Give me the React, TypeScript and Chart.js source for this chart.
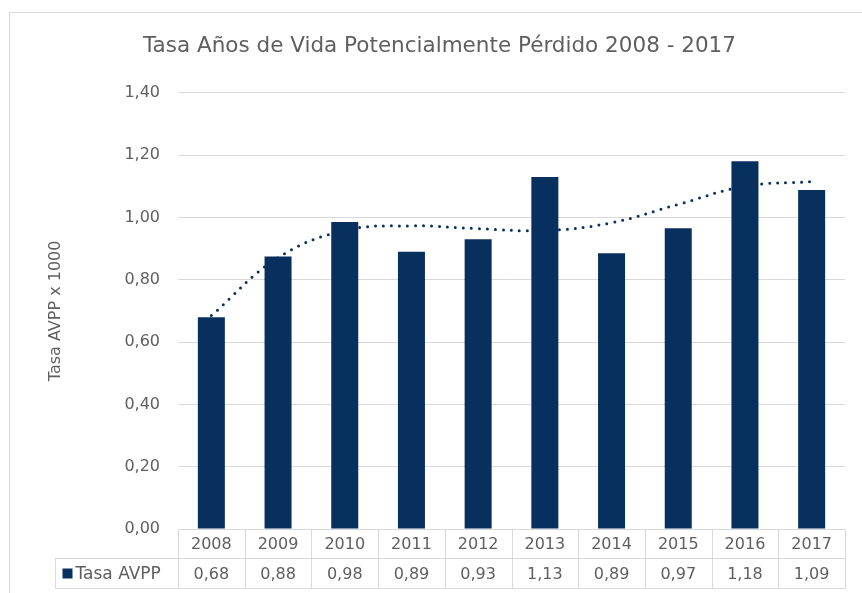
import React, { useEffect, useRef } from "react";
import { Chart, registerables } from "chart.js";

Chart.register(...registerables);

const categories = ["2008", "2009", "2010", "2011", "2012", "2013", "2014", "2015", "2016", "2017"];
const tasaAVPP = [0.68, 0.875, 0.985, 0.89, 0.93, 1.13, 0.885, 0.965, 1.18, 1.088];
const tableValues = ["0,68", "0,88", "0,98", "0,89", "0,93", "1,13", "0,89", "0,97", "1,18", "1,09"];
const trendValues = [0.685, 0.871, 0.958, 0.973, 0.964, 0.958, 0.983, 1.042, 1.1, 1.115];
const yTicks = [0, 0.2, 0.4, 0.6, 0.8, 1.0, 1.2, 1.4];

const FONT = "'DejaVu Sans', sans-serif";
const TEXT = "#5f5f5f";
const GRID = "#d9d9d9";
const BAR = "#08305e";

const tablePlugin = {
  id: "dataTable",
  beforeDraw(chart: any) {
    const ctx = chart.ctx;
    ctx.save();
    ctx.fillStyle = "#ffffff";
    ctx.fillRect(0, 0, chart.width, chart.height);
    ctx.strokeStyle = GRID;
    ctx.lineWidth = 1;
    ctx.strokeRect(9.5, 12.5, 900, 700);
    ctx.restore();
  },
  afterDraw(chart: any) {
    const ctx = chart.ctx;
    const area = chart.chartArea;
    const xs = chart.scales.x;
    const n = categories.length;
    const w = (area.right - area.left) / n;
    const top = Math.round(area.bottom) + 0.5;
    const mid = top + 29;
    const bot = top + 59;
    const legendLeft = Math.round(area.left - 123) + 0.5;
    ctx.save();
    ctx.strokeStyle = GRID;
    ctx.lineWidth = 1;
    const line = (x1: number, y1: number, x2: number, y2: number) => {
      ctx.beginPath();
      ctx.moveTo(x1, y1);
      ctx.lineTo(x2, y2);
      ctx.stroke();
    };
    line(area.left, top, area.right, top);
    line(legendLeft, mid, area.right, mid);
    line(legendLeft, bot, area.right, bot);
    for (let i = 0; i <= n; i++) {
      const xx = Math.round(area.left + i * w) + 0.5;
      line(xx, top, xx, bot);
    }
    line(legendLeft, mid, legendLeft, bot);

    ctx.fillStyle = TEXT;
    ctx.font = `16px ${FONT}`;
    ctx.textAlign = "center";
    ctx.textBaseline = "middle";
    for (let i = 0; i < n; i++) {
      const cx = xs.getPixelForValue(i);
      ctx.fillText(categories[i], cx, (top + mid) / 2 + 1);
      ctx.fillText(tableValues[i], cx, (mid + bot) / 2 + 1);
    }
    ctx.fillStyle = BAR;
    ctx.fillRect(legendLeft + 7, mid + 10, 10, 10);
    ctx.fillStyle = TEXT;
    ctx.textAlign = "left";
    ctx.font = `17px ${FONT}`;
    ctx.fillText(chart.data.datasets[0].label, legendLeft + 20, (mid + bot) / 2 + 1);
    ctx.restore();
  },
};

export default function App() {
  const ref = useRef<HTMLCanvasElement | null>(null);
  useEffect(() => {
    if (!ref.current) return;
    const chart = new Chart(ref.current, {
      type: "bar",
      data: {
        labels: categories,
        datasets: [
          {
            type: "bar",
            label: "Tasa AVPP",
            data: tasaAVPP,
            backgroundColor: BAR,
            categoryPercentage: 1,
            barPercentage: 0.405,
            order: 2,
          },
          {
            type: "line",
            label: "Tendencia",
            data: trendValues,
            borderColor: BAR,
            borderWidth: 3,
            borderDash: [0, 8],
            borderCapStyle: "round",
            pointRadius: 0,
            tension: 0.4,
            fill: false,
            order: 1,
          } as any,
        ],
      },
      options: {
        animation: false,
        responsive: true,
        maintainAspectRatio: false,
        layout: { padding: { left: 34, right: 17, top: 0, bottom: 0 } },
        plugins: {
          legend: { display: false },
          tooltip: { enabled: false },
          title: {
            display: true,
            text: "Tasa Años de Vida Potencialmente Pérdido 2008 - 2017",
            color: TEXT,
            font: { family: FONT, size: 21.5, weight: "normal" },
            padding: { top: 34, bottom: 33 },
          },
        },
        scales: {
          x: {
            type: "category",
            offset: true,
            grid: { display: false },
            border: { display: false },
            ticks: { display: false },
            afterFit: (s: any) => {
              s.height = 64;
            },
          },
          y: {
            min: 0,
            max: 1.4,
            afterBuildTicks: (s: any) => {
              s.ticks = yTicks.map((v) => ({ value: v }));
            },
            ticks: {
              color: TEXT,
              font: { family: FONT, size: 16 },
              padding: 18,
              callback: (v: any) => Number(v).toFixed(2).replace(".", ","),
            },
            grid: { color: GRID, lineWidth: 1, drawTicks: false },
            border: { display: false },
            title: {
              display: true,
              text: "Tasa AVPP x 1000",
              color: TEXT,
              font: { family: FONT, size: 16, weight: "normal" },
              padding: { top: 12, bottom: 0 },
            },
            afterFit: (s: any) => {
              s.width = 144;
            },
          },
        },
      },
      plugins: [tablePlugin],
    });
    return () => chart.destroy();
  }, []);
  return (
    <div style={{ position: "fixed", left: 0, top: 0, width: 862, height: 593, background: "#fff" }}>
      <canvas ref={ref} />
    </div>
  );
}
